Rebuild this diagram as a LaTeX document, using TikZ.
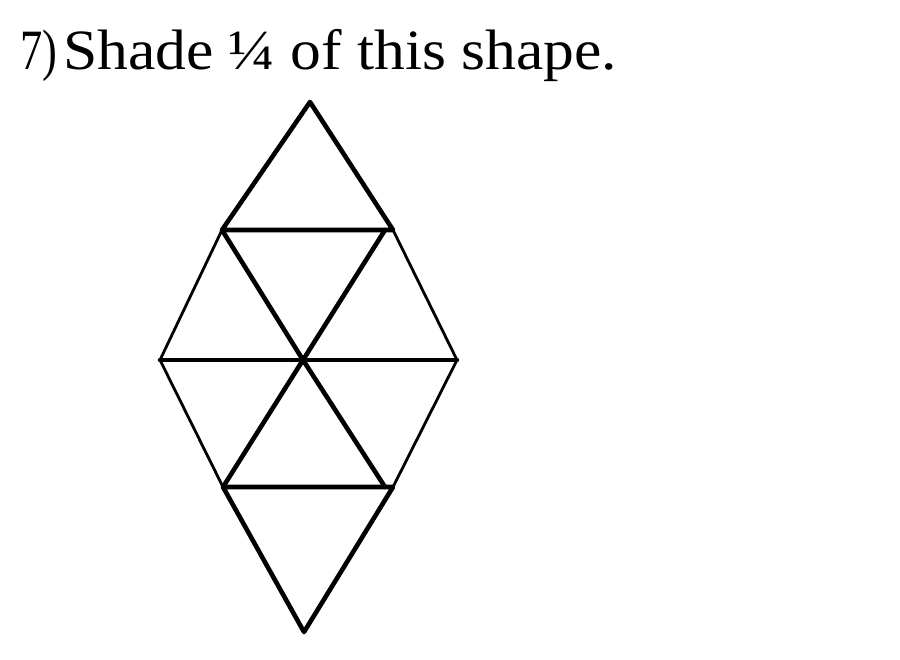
\documentclass[tikz,border=0pt]{standalone}
\usepackage{fontspec}
\setmainfont{Liberation Serif}
\newfontfamily\wideSerif[FakeStretch=1.08]{Liberation Serif}
\newfontfamily\narrowSerif[FakeStretch=0.78]{Liberation Serif}
\usetikzlibrary{calc,positioning}
\tikzset{
    thickEdge/.style={line width=4.6pt, line cap=round, line join=round},
    thinEdge/.style={line width=2.8pt, line cap=round, line join=round},
    titleText/.style={anchor=base west, inner sep=0pt}
}
\begin{document}
\begin{tikzpicture}[x=1pt, y=-1pt]
    \useasboundingbox (0,0) rectangle (900,660);
    % Title.
    \node[titleText, font=\fontsize{57}{60}\narrowSerif] (num) at (20,70) {7)};
    \node[titleText, font=\fontsize{57}{60}\wideSerif] (title) at (63,70) {Shade ¼ of this shape.};

    % Corner points of the shape.
    \coordinate (top) at (310,102);
    \coordinate (ul)  at (222,230);
    \coordinate (ur)  at (393,230);
    \coordinate (uri) at (385,230);
    \coordinate (ml)  at (160,360);
    \coordinate (c)   at (303,360);
    \coordinate (mr)  at (457,360);
    \coordinate (ll)  at (223,487);
    \coordinate (lr)  at (393,487);
    \coordinate (lri) at (385,487);
    \coordinate (bot) at (304,632);

    % Outer hexagon sides.
    \draw[thinEdge] (ul) -- (ml) -- (ll);
    \draw[thinEdge] (ur) -- (mr) -- (lr);

    % Top and bottom triangles.
    \draw[thickEdge] (ul) -- (top) -- (ur) -- cycle;
    \draw[thickEdge] (ll) -- (bot) -- (lr) -- cycle;

    % Inside lines.
    \draw[thickEdge] (ml) -- (mr);
    \draw[thickEdge] (ul) -- (c) -- (lri);
    \draw[thickEdge] (uri) -- (c) -- (ll);
\end{tikzpicture}
\end{document}
